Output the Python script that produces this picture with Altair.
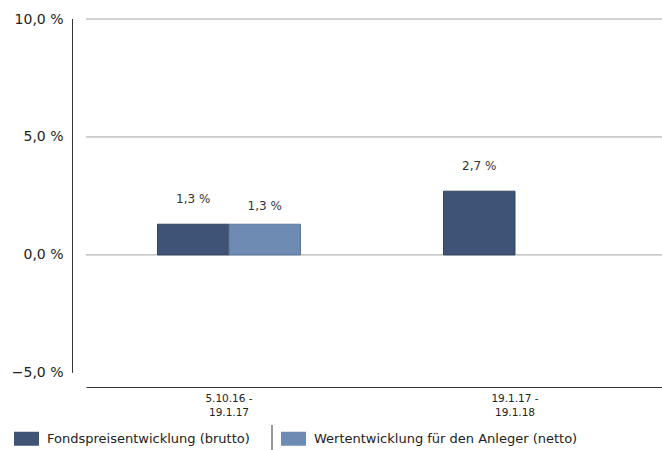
import altair as alt
import pandas as pd

# Periods, series and returns (in %)
periods = ["5.10.16 - 19.1.17", "19.1.17 - 19.1.18"]
series_names = ["Fondspreisentwicklung (brutto)", "Wertentwicklung für den Anleger (netto)"]
brutto = [1.3, 2.7]
netto = [1.3, None]

fill_colors = ["#3e5376", "#6e8bb4"]
edge_colors = ["#33455f", "#5d7699"]

grid_levels = [0, 5, 10]
y_ticks = [-5, 0, 5, 10]

rows = []
for p, b, n in zip(periods, brutto, netto):
    if b is not None:
        rows.append({"period": p, "series": series_names[0], "value": b})
    if n is not None:
        rows.append({"period": p, "series": series_names[1], "value": n})
df = pd.DataFrame(rows)

FONT = "DejaVu Sans"
y_scale = alt.Scale(domain=[-5.6, 10], nice=False, zero=False)
x_scale = alt.Scale(domain=periods, paddingInner=0, paddingOuter=0.007, align=0)
off_scale = alt.Scale(domain=series_names, paddingInner=0, paddingOuter=1)

label_expr = "replace(format(datum.value, '.1f'), '.', ',') + ' %'"

x_axis = alt.Axis(
    title=None, labelAngle=0, ticks=False, domainColor="#333333", domainWidth=1,
    labelFont=FONT, labelFontSize=10.5, labelColor="#222222", labelLineHeight=14.5,
    labelPadding=6, labelBaseline="top",
    labelExpr="[slice(datum.label, 0, indexof(datum.label, ' - ')) + ' -', "
              "slice(datum.label, indexof(datum.label, ' - ') + 3)]",
)

y_axis = alt.Axis(
    title=None, values=y_ticks, domain=False, ticks=False, grid=False,
    labelExpr=label_expr, labelFont=FONT, labelFontSize=14, labelColor="#222222",
    labelPadding=23, labelBaseline="middle",
)

grid = alt.Chart(pd.DataFrame({"level": grid_levels})).mark_rule(
    color="#a3a3a3", strokeWidth=1
).encode(y=alt.Y("level:Q", scale=y_scale, axis=y_axis))

y_line = alt.Chart(pd.DataFrame({"top": [max(y_ticks)], "bottom": [min(y_ticks)]})).mark_rule(
    color="#333333", strokeWidth=1
).encode(x=alt.value(-13.5), y=alt.Y("top:Q", scale=y_scale, axis=y_axis), y2="bottom:Q")

bars = alt.Chart(df).mark_bar(strokeWidth=1).encode(
    x=alt.X("period:N", scale=x_scale, axis=x_axis),
    xOffset=alt.XOffset("series:N", scale=off_scale),
    y=alt.Y("value:Q", scale=y_scale, axis=y_axis),
    y2=alt.datum(0),
    color=alt.Color("series:N", scale=alt.Scale(domain=series_names, range=fill_colors),
                    legend=alt.Legend(
                        title=None, orient="none", legendX=-72, legendY=407,
                        direction="horizontal", columnPadding=31,
                        symbolType="M-1,-0.56L1,-0.56L1,0.56L-1,0.56Z", symbolSize=625,
                        symbolStrokeWidth=0, symbolOpacity=1,
                        labelFont=FONT, labelFontSize=13, labelColor="#222222",
                        labelOffset=8, labelLimit=0,
                    )),
    stroke=alt.Stroke("series:N", scale=alt.Scale(domain=series_names, range=edge_colors),
                      legend=None),
)


def value_labels(series, dy):
    return alt.Chart(df).transform_filter(
        alt.datum.series == series
    ).transform_calculate(
        txt=label_expr
    ).mark_text(font=FONT, fontSize=12, color="#333333", baseline="middle", dy=dy).encode(
        x=alt.X("period:N", scale=x_scale, axis=x_axis),
        xOffset=alt.XOffset("series:N", scale=off_scale),
        y=alt.Y("value:Q", scale=y_scale, axis=y_axis),
        text="txt:N",
    )


separator = alt.Chart(alt.Data(values=[{}])).mark_rule(color="#333333", strokeWidth=1).encode(
    x=alt.value(186), y=alt.value(406), y2=alt.value(431)
)

chart = alt.layer(
    grid, y_line, bars,
    value_labels(series_names[0], -25), value_labels(series_names[1], -18),
    separator,
).properties(
    width=576, height=368, autosize="none",
    padding={"left": 86, "top": 19, "right": 0, "bottom": 63},
).configure_view(stroke=None)

chart.save("out.html", embed_options={"renderer": "svg", "actions": False})
